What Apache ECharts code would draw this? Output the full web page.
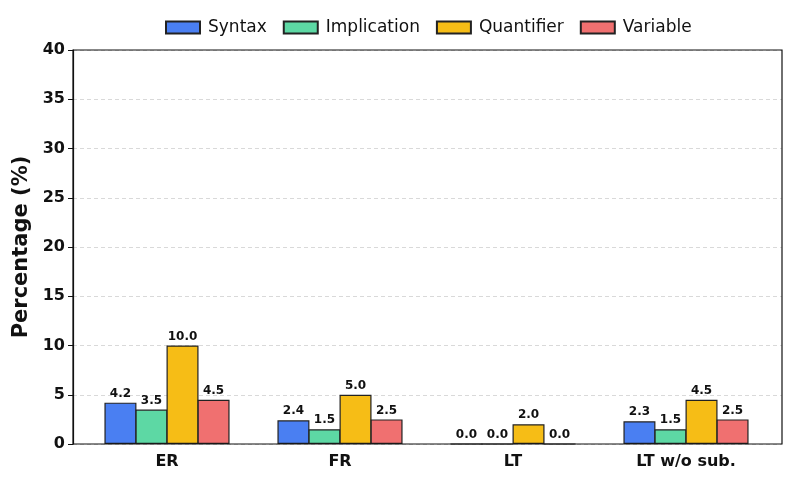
<!DOCTYPE html>
<html><head><meta charset="utf-8">
<script src="https://cdn.jsdelivr.net/npm/echarts@6/dist/echarts.min.js"></script>
<style>html,body{margin:0;padding:0;background:#fff}#c{width:793px;height:483px}</style>
</head><body><div id="c"></div>
<script>
const categories = ['ER', 'FR', 'LT', 'LT w/o sub.'];
const seriesNames = ['Syntax', 'Implication', 'Quantifier', 'Variable'];
const syntax = [4.2, 2.4, 0.0, 2.3];
const implication = [3.5, 1.5, 0.0, 1.5];
const quantifier = [10.0, 5.0, 2.0, 4.5];
const variable = [4.5, 2.5, 0.0, 2.5];
const yTicks = [0, 5, 10, 15, 20, 25, 30, 35, 40];
const colors = ['#4a7ff2', '#5dd8a4', '#f6bd16', '#f07070'];
const values = [syntax, implication, quantifier, variable];
const font = 'DejaVu Sans';
const chart = echarts.init(document.getElementById('c'));
chart.setOption({
  animation: false,
  textStyle: {fontFamily: font},
  legend: {
    top: 19, left: 165, padding: 0, itemWidth: 34, itemHeight: 12, itemGap: 16, icon: 'rect',
    textStyle: {fontFamily: font, fontSize: 17, color: '#111', padding: [0, 0, 0, 3]},
    data: seriesNames
  },
  grid: [
    {left: 73, right: 11, top: 50, bottom: 39, show: true, borderColor: '#111', borderWidth: 1.2, backgroundColor: 'transparent', z: 5},
    {left: 80.5, right: 20.5, top: 50, bottom: 39}
  ],
  xAxis: [
    {type: 'value', gridIndex: 0, min: 0, max: 1, show: false},
    {
      type: 'category', gridIndex: 1, data: categories,
      axisLine: {show: false},
      axisTick: {alignWithLabel: true, length: 5, lineStyle: {color: '#111'}},
      axisLabel: {fontFamily: font, fontSize: 16, fontWeight: 'bold', color: '#111', margin: 10}
    }
  ],
  yAxis: [
    {
      type: 'value', gridIndex: 0, min: 0, max: 40, interval: 5,
      name: 'Percentage (%)', nameLocation: 'middle', nameGap: 41,
      nameTextStyle: {fontFamily: font, fontSize: 21, fontWeight: 'bold', color: '#111'},
      axisLine: {show: true, lineStyle: {color: '#111', width: 1.2}},
      axisTick: {show: true, length: 5, lineStyle: {color: '#111'}},
      axisLabel: {fontFamily: font, fontSize: 16, fontWeight: 'bold', color: '#111', margin: 8,
        formatter: v => yTicks.includes(v) ? String(v) : ''},
      splitLine: {show: true, lineStyle: {color: '#cfcfcf', type: [4, 3], width: 0.8}}
    },
    {type: 'value', gridIndex: 1, min: 0, max: 40, interval: 5, show: false, splitLine: {show: false}}
  ],
  series: seriesNames.map((n, i) => ({
    name: n, type: 'bar', data: values[i], xAxisIndex: 1, yAxisIndex: 1,
    barWidth: 32, barGap: '-3%',
    itemStyle: {color: colors[i], borderColor: '#222', borderWidth: 1.2},
    label: {show: true, position: 'top', distance: 3, formatter: p => p.value.toFixed(1),
      fontFamily: font, fontSize: 12, fontWeight: 'bold', color: '#111'}
  }))
});
</script></body></html>
